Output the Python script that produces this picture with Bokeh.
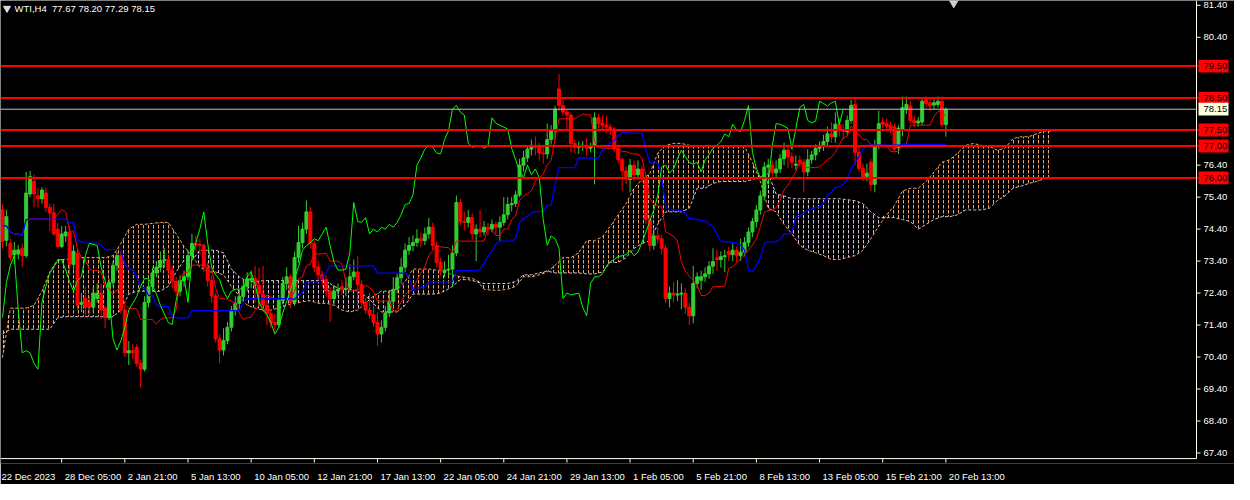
import numpy as np
import pandas as pd
from bokeh.plotting import figure
from bokeh.models import (Range1d, LinearAxis, FixedTicker, Label,
                          ColumnDataSource, CustomJSTickFormatter)
from bokeh.core.properties import value
from bokeh.embed import file_html
from bokeh.resources import INLINE

# ---------------- data ----------------
symbol_header = "WTI,H4\u00a0 77.67 78.20 77.29 78.15"

opens = [75.00,74.05,73.95,73.60,73.62,73.80,73.57,75.50,75.89,75.44,
         75.35,75.53,75.08,74.91,74.40,73.86,74.19,74.31,73.30,73.65,
         72.05,72.23,72.11,71.96,72.23,72.40,71.93,71.63,72.73,73.27,
         73.57,71.87,70.53,70.60,70.70,70.20,70.02,72.11,72.61,73.03,
         73.21,73.42,73.45,73.12,72.76,72.46,72.79,72.91,73.57,73.95,
         73.92,73.89,73.21,72.79,72.31,70.97,70.62,70.91,71.33,71.87,
         72.08,72.29,72.61,72.80,72.85,72.64,72.37,72.02,71.75,71.48,
         71.42,72.17,72.70,72.91,72.11,73.51,73.98,74.40,74.94,73.95,
         73.21,72.97,72.82,72.46,72.23,72.46,72.60,72.52,72.55,72.91,
         73.06,72.67,72.11,71.87,71.72,71.48,71.12,71.33,71.78,72.14,
         72.52,72.88,73.21,73.74,73.89,73.98,74.10,74.04,74.25,74.46,
         73.89,73.36,73.05,73.12,73.15,73.65,75.23,74.64,74.61,74.76,
         74.25,74.40,74.31,74.46,74.40,74.55,74.46,74.61,74.85,75.17,
         75.20,75.47,76.40,76.63,76.90,77.02,76.96,76.78,76.75,77.20,
         77.47,78.78,78.27,78.06,77.97,77.08,76.96,76.99,77.02,76.93,
         77.00,77.88,77.71,77.65,77.59,77.53,76.93,76.57,76.22,75.95,
         76.40,76.10,76.28,76.01,74.70,73.89,74.19,74.10,73.80,72.23,
         72.40,72.34,72.37,72.40,71.96,71.69,72.70,72.80,72.91,73.00,
         73.24,73.50,73.45,73.54,73.70,73.60,73.74,73.57,73.68,73.98,
         74.31,74.64,75.00,75.44,76.34,76.40,76.16,76.28,76.60,76.87,
         76.66,76.40,76.55,76.49,76.19,76.57,76.72,76.93,77.02,77.14,
         77.38,77.29,77.68,77.50,77.45,77.80,78.30,76.80,76.30,76.05,
         76.49,75.80,76.99,77.75,77.70,77.65,77.60,76.95,77.50,78.15,
         78.25,77.80,77.72,77.75,78.45,78.35,78.28,78.30,78.40,77.67]

highs = [75.20,75.00,74.10,74.00,73.90,73.95,76.19,76.22,76.10,75.68,
         75.71,75.70,75.20,75.20,74.60,74.50,74.50,74.50,73.90,73.80,
         72.40,72.60,72.30,72.60,72.70,72.70,72.00,72.85,73.40,73.70,
         73.70,72.00,70.90,70.80,70.80,70.30,72.30,72.80,73.20,73.40,
         73.70,73.80,73.60,73.25,72.90,72.95,73.10,73.75,74.25,74.20,
         74.10,73.95,73.35,72.95,72.40,71.10,71.30,71.50,72.00,72.30,
         72.50,72.80,73.05,73.10,73.25,73.20,73.25,72.30,71.90,71.75,
         72.35,72.90,73.20,73.00,73.70,74.50,74.60,75.30,75.10,74.05,
         73.40,73.10,72.95,72.60,72.65,72.70,72.80,72.90,73.30,73.45,
         73.55,72.80,72.25,72.40,72.10,71.80,71.55,72.00,72.50,72.90,
         73.00,73.50,73.95,74.15,74.20,74.40,74.30,74.45,74.75,74.60,
         74.00,73.50,73.40,73.60,73.90,75.45,75.35,74.95,75.00,74.90,
         74.55,75.00,74.65,74.60,74.70,74.65,74.80,75.40,75.40,75.40,
         75.60,76.60,76.85,77.00,77.20,77.30,77.10,77.00,77.70,77.65,
         78.25,79.25,78.45,78.15,78.00,77.20,77.15,77.15,77.25,77.10,
         78.05,78.00,77.95,77.95,77.70,77.60,77.05,76.65,76.35,76.60,
         76.55,76.55,76.40,76.10,74.85,74.40,74.45,74.20,73.90,72.60,
         72.75,72.80,72.70,72.55,72.10,73.25,73.05,73.10,73.20,73.40,
         73.80,73.75,73.70,73.75,73.85,73.95,73.85,74.10,74.15,74.45,
         74.75,75.15,75.60,76.50,76.60,76.55,76.55,76.75,77.10,77.05,
         76.80,76.70,76.70,76.60,76.90,76.85,77.05,77.15,77.35,77.60,
         77.75,78.05,77.85,77.70,77.95,78.45,78.50,77.00,76.45,76.45,
         76.60,77.20,78.10,77.90,77.85,77.75,77.70,77.65,78.55,78.55,
         78.40,77.95,77.90,78.50,78.55,78.45,78.50,78.55,78.55,78.20]

lows = [73.80,73.86,73.42,73.30,73.45,73.21,73.50,75.40,75.08,75.08,
        75.20,74.94,74.34,74.19,73.80,73.80,74.00,72.97,73.10,71.87,
        71.80,71.70,71.70,71.80,72.10,71.60,71.30,71.55,72.60,73.10,
        71.75,70.40,70.15,70.35,70.10,69.45,69.95,71.95,72.45,72.90,
        73.05,73.20,72.95,72.55,72.30,72.30,72.60,72.80,73.45,73.70,
        73.60,73.05,72.60,72.10,70.85,70.20,70.45,70.80,71.20,71.70,
        71.90,72.15,72.45,72.55,72.10,72.00,71.80,71.40,71.30,71.20,
        71.30,72.05,72.50,71.95,72.00,73.35,73.80,74.25,73.80,73.05,
        72.80,72.60,72.30,71.50,72.05,72.30,72.35,72.30,72.45,72.80,
        72.00,71.95,71.75,71.60,71.35,70.75,70.85,71.20,71.65,72.00,
        72.40,72.70,73.05,73.60,73.70,73.85,73.85,73.90,74.10,73.75,
        73.20,72.95,72.90,72.95,72.60,73.55,74.50,74.35,74.45,74.05,
        73.40,74.15,74.20,74.20,74.30,74.25,74.00,74.50,74.70,74.95,
        75.10,75.40,76.20,76.50,76.70,76.70,76.55,76.45,76.60,77.05,
        77.20,78.10,77.95,77.50,76.80,76.75,76.75,76.85,76.70,76.80,
        75.80,77.55,77.50,77.40,77.35,76.80,76.45,75.60,75.80,75.55,
        75.90,75.95,75.85,74.55,73.70,73.75,73.95,73.60,72.10,71.95,
        72.10,72.15,71.90,71.75,71.40,71.45,72.55,72.50,72.75,72.85,
        73.00,73.10,73.20,73.05,73.40,73.40,73.35,73.40,73.55,73.85,
        74.15,74.45,74.85,75.30,76.10,75.95,76.00,76.15,76.40,76.30,
        76.30,76.25,76.35,75.55,76.05,76.45,76.55,76.80,76.85,77.00,
        77.10,77.10,77.30,77.20,77.35,77.70,76.40,76.20,75.90,75.90,
        75.60,75.55,76.90,77.55,77.50,77.40,76.80,76.75,77.30,78.00,
        77.70,77.60,77.60,77.65,78.20,78.10,78.15,78.20,77.60,77.29]

closes = [74.02,74.79,73.51,73.74,73.75,73.57,75.53,76.04,75.50,75.35,
          75.62,75.08,74.91,74.25,73.86,74.25,74.31,73.30,73.71,72.02,
          72.11,71.96,71.96,72.40,72.40,71.87,71.63,72.73,73.27,73.57,
          71.87,70.53,70.60,70.53,70.20,70.02,72.11,72.61,73.03,73.21,
          73.42,73.45,73.12,72.76,72.46,72.79,72.91,73.57,73.95,73.92,
          73.89,73.21,72.79,72.31,70.97,70.62,70.91,71.33,71.87,72.08,
          72.29,72.61,72.85,72.85,72.64,72.37,72.02,71.75,71.48,71.42,
          72.17,72.70,72.91,72.11,73.51,73.98,74.40,74.94,73.95,73.21,
          72.97,72.82,72.46,72.23,72.46,72.52,72.52,72.55,72.91,73.06,
          72.67,72.11,71.87,71.72,71.48,71.12,71.33,71.78,72.14,72.52,
          72.88,73.21,73.74,73.89,73.98,74.10,74.04,74.25,74.46,73.89,
          73.36,73.12,73.12,73.15,73.65,75.23,74.64,74.61,74.76,74.25,
          74.40,74.31,74.46,74.40,74.55,74.46,74.61,74.85,75.17,75.20,
          75.47,76.40,76.63,76.90,77.02,76.96,76.78,76.75,77.20,77.47,
          78.15,78.27,78.06,77.97,77.08,76.96,76.99,77.02,76.93,77.00,
          77.88,77.71,77.65,77.59,77.53,76.93,76.57,76.22,76.01,76.40,
          76.10,76.28,76.01,74.70,73.89,74.19,74.10,73.80,72.23,72.40,
          72.34,72.37,72.40,71.96,71.69,72.70,72.91,72.91,73.00,73.24,
          73.39,73.45,73.54,73.57,73.60,73.74,73.57,73.68,73.98,74.31,
          74.64,75.00,75.44,76.34,76.40,76.16,76.28,76.60,76.87,76.66,
          76.49,76.43,76.49,76.19,76.57,76.72,76.93,77.02,77.14,77.38,
          77.29,77.68,77.50,77.45,77.80,78.27,76.80,76.30,76.00,76.15,
          75.80,76.99,77.70,77.68,77.62,77.55,76.90,77.55,78.20,78.30,
          77.80,77.72,77.78,78.40,78.33,78.25,78.35,78.40,77.67,78.15]

# Senkou spans as read at every second bar position (0, 2, 4, ... 266)
span_a = [70.38,71.93,71.93,71.93,72.02,72.46,73.06,73.45,73.45,73.51,
          73.51,73.51,73.51,73.51,73.57,73.95,74.40,74.55,74.55,74.58,
          74.61,74.61,74.25,73.86,73.57,73.21,73.06,73.06,72.97,72.61,
          72.31,72.02,71.93,71.87,71.87,71.93,72.02,72.08,72.13,72.16,
          72.08,72.08,72.02,71.87,71.81,71.87,72.08,72.31,72.46,72.46,
          72.52,72.76,73.15,73.15,73.15,73.12,73.06,72.97,72.91,72.88,
          72.82,72.52,72.49,72.49,72.52,72.61,72.91,72.91,72.97,73.06,
          73.27,73.51,73.51,73.66,74.04,74.04,74.16,74.49,74.85,75.20,
          75.68,75.95,76.13,76.78,77.02,77.08,77.08,77.02,76.99,76.99,
          76.99,76.99,76.99,76.99,76.99,76.49,75.89,75.05,74.94,74.55,
          74.25,73.89,73.74,73.66,73.57,73.45,73.45,73.51,73.57,73.74,
          74.10,74.49,74.85,75.14,75.59,75.68,75.68,75.89,76.19,76.49,
          76.57,76.78,77.02,77.08,77.02,76.99,76.87,76.93,77.23,77.29,
          77.29,77.38,77.47,77.47]
span_b = [71.12,71.27,71.27,71.27,71.27,71.27,71.27,71.63,71.66,71.66,
          71.66,71.66,71.66,71.66,71.66,71.87,72.37,72.46,72.46,72.46,
          72.46,72.61,73.06,73.42,73.42,73.74,73.74,73.74,73.66,73.15,
          72.91,72.76,72.76,72.79,72.79,72.79,72.79,72.79,72.79,72.79,
          72.79,72.79,72.61,72.52,72.52,72.46,72.31,72.08,71.81,71.81,
          71.81,72.02,72.37,72.37,72.37,72.37,72.46,72.61,72.82,72.82,
          72.76,72.70,72.70,72.70,72.70,72.76,72.97,72.97,73.03,73.09,
          73.03,73.03,73.03,73.03,73.00,73.00,73.06,73.36,73.36,73.51,
          73.80,73.95,74.04,74.55,74.94,74.94,74.94,75.05,75.68,75.68,
          75.83,75.89,75.89,75.89,75.89,75.95,76.04,76.13,75.50,75.44,
          75.35,75.35,75.35,75.35,75.35,75.35,75.35,75.32,75.29,75.20,
          74.94,74.76,74.76,74.76,74.70,74.64,74.40,74.55,74.70,74.79,
          74.79,74.85,75.00,75.00,75.00,75.05,75.29,75.44,75.68,75.74,
          75.83,75.89,75.98,75.98]

level_lines = [79.50, 78.50, 77.50, 77.00, 76.00]
bid_price = 78.15
y_tick_values = [67.40, 68.40, 69.40, 70.40, 71.40, 72.40, 73.40, 74.40,
                 75.40, 76.40, 80.40, 81.40]
x_tick_labels = ["22 Dec 2023", "28 Dec 05:00", "2 Jan 21:00", "5 Jan 13:00",
                 "10 Jan 05:00", "12 Jan 21:00", "17 Jan 13:00", "22 Jan 05:00",
                 "24 Jan 21:00", "29 Jan 13:00", "1 Feb 05:00", "5 Feb 21:00",
                 "8 Feb 13:00", "13 Feb 05:00", "15 Feb 21:00", "20 Feb 13:00"]

# ---------------- layout ----------------
W, H = 1234, 484
BB = 14                      # space for the time labels below the frame
FRAME_H = H - BB
CHART_W = 1196               # px up to the price-axis line
XMIN, XAX = -0.5, 302.5      # bar coordinate of left edge / price-axis line
ppb = CHART_W / (XAX - XMIN)
XMAX = XMIN + W / ppb
PPU = 32.46                  # px per price unit
YMAX = 81.55
YMIN = YMAX - FRAME_H / PPU
YAX = YMAX - 465 / PPU       # price at the time-axis line
upp = 1 / PPU
FONT = "Liberation Sans"
FS = "9.5px"
FG = "#FFFFF0"

n = len(closes)
x = np.arange(n)
o = np.array(opens); h = np.array(highs); l = np.array(lows); c = np.array(closes)
cols = np.where(c > o, "#32CD32", np.where(c < o, "#FF0000", "#FFFFFF"))
src = ColumnDataSource(dict(x=x, o=o, h=h, l=l, c=c,
                            top=np.maximum(o, c), bot=np.minimum(o, c), col=cols))

hs, ls = pd.Series(highs), pd.Series(lows)
tenkan = (hs.rolling(9, min_periods=1).max() + ls.rolling(9, min_periods=1).min()) / 2
kijun = (hs.rolling(26, min_periods=1).max() + ls.rolling(26, min_periods=1).min()) / 2

m = min(len(span_a), len(span_b))
sa = np.array(span_a[:m]); sb = np.array(span_b[:m])
spos = np.arange(m) * 2
smax = np.maximum(sa, sb)

p = figure(width=W, height=H, output_backend="svg", toolbar_location=None,
           x_range=Range1d(XMIN, XMAX), y_range=Range1d(YMIN, YMAX),
           x_axis_location=None, y_axis_location=None,
           min_border_left=0, min_border_top=0, min_border_right=0, min_border_bottom=BB)
p.background_fill_color = "black"
p.border_fill_color = "black"
p.outline_line_color = None
p.xgrid.visible = False
p.ygrid.visible = False

# cloud (hatched)
p.varea(x=spos, y1=sb, y2=smax, fill_alpha=0, hatch_pattern=":",
        hatch_color="#F4A460", hatch_scale=5, hatch_weight=1)
p.varea(x=spos, y1=sa, y2=smax, fill_alpha=0, hatch_pattern=":",
        hatch_color="#D8BFD8", hatch_scale=5, hatch_weight=1)
p.line(spos, sa, line_color="#F4A460", line_width=1, line_dash="3 2")
p.line(spos, sb, line_color="#D8BFD8", line_width=1, line_dash="3 2")

# candles
p.segment(x0="x", y0="l", x1="x", y1="h", line_color="col", line_width=1, source=src)
p.vbar(x="x", width=0.75, top="top", bottom="bot", fill_color="col",
       line_color="col", line_width=1, source=src)

# ichimoku lines
p.line(x, tenkan.values, line_color="#FF0000", line_width=1)
p.line(x, kijun.values, line_color="#0000FF", line_width=1.3)
p.line(x[26:] - 26, c[26:], line_color="#00FF00", line_width=1)

# horizontal levels and bid line (stop at the price axis)
nl = len(level_lines)
p.segment(x0=[XMIN] * nl, y0=level_lines, x1=[XAX + 2 / ppb] * nl, y1=level_lines,
          line_color="#FF0000", line_width=2)
p.segment(x0=[XMIN], y0=[bid_price], x1=[XAX], y1=[bid_price],
          line_color="#C0C0C0", line_width=1)

# price axis (right) and time axis lines
p.segment(x0=[XAX], y0=[YAX], x1=[XAX], y1=[YMAX], line_color=FG, line_width=1)
p.segment(x0=[XMIN], y0=[YAX], x1=[XAX], y1=[YAX], line_color=FG, line_width=1)
nt = len(y_tick_values)
p.segment(x0=[XAX] * nt, y0=y_tick_values, x1=[XAX + 4 / ppb] * nt, y1=y_tick_values,
          line_color=FG, line_width=1)
p.text(x=[XAX + 7 / ppb] * nt, y=y_tick_values, text=["%.2f" % v for v in y_tick_values],
       text_color="#FFFFFF", text_font=value(FONT), text_font_size=FS,
       text_baseline="middle", text_align="left")

# price label boxes
box_l, box_r = XAX + 2 / ppb, XAX + 32 / ppb
p.quad(left=[box_l] * nl, right=[box_r] * nl,
       top=[v + 6.5 * upp for v in level_lines], bottom=[v - 6.5 * upp for v in level_lines],
       fill_color="#FF0000", line_color=None)
p.quad(left=[box_l], right=[box_r], top=[bid_price + 6.5 * upp],
       bottom=[bid_price - 6.5 * upp], fill_color="#FFFFE0", line_color=None)
p.text(x=[XAX + 7 / ppb] * (nl + 1), y=level_lines + [bid_price],
       text=["%.2f" % v for v in level_lines + [bid_price]],
       text_color="black", text_font=value(FONT), text_font_size=FS,
       text_baseline="middle", text_align="left")

# time axis: tick marks (glyphs) and left-aligned labels (axis below frame)
tick_bars = [16 * k - 1 for k in range(1, len(x_tick_labels))]
ntb = len(tick_bars)
p.segment(x0=tick_bars, y0=[YAX] * ntb, x1=tick_bars, y1=[YAX - 4 * upp] * ntb,
          line_color=FG, line_width=1)

cw = {' ': 278, ':': 278, '.': 278, 'D': 722, 'e': 556, 'c': 500, 'J': 500,
      'a': 556, 'n': 556, 'F': 611, 'b': 556}
def text_w(s, fs=9.5):
    return sum(cw.get(ch, 556) for ch in s) / 1000 * fs

label_left = [XMIN + 1 / ppb] + [t + 3 / ppb for t in tick_bars]
centers = [lx + text_w(s) / 2 / ppb for lx, s in zip(label_left, x_tick_labels)]
ax_labels = LinearAxis(ticker=FixedTicker(ticks=centers),
                       formatter=CustomJSTickFormatter(args=dict(labs=x_tick_labels),
                                                       code="return labs[index];"),
                       axis_line_color=None, major_tick_line_color=None,
                       minor_tick_line_color=None, major_label_standoff=1,
                       major_label_text_color="#FFFFFF", major_label_text_font=FONT,
                       major_label_text_font_size=FS)
p.add_layout(ax_labels, "below")

# header
p.scatter([XMIN + 6.5 / ppb], [YMAX - 8 * upp], marker="inverted_triangle", size=7,
          fill_color="#E0E0E0", line_color="#E0E0E0")
p.add_layout(Label(x=XMIN + 14 / ppb, y=YMAX - 8 * upp, text=symbol_header,
                   text_color="#FFFFFF", text_font=FONT, text_font_size=FS,
                   text_baseline="middle", text_align="left"))
# chart shift marker
p.scatter([241], [YMAX - 1 * upp], marker="inverted_triangle", size=11,
          fill_color="#D0D0D0", line_color="#D0D0D0")

open("out.html", "w").write(file_html(p, INLINE))
